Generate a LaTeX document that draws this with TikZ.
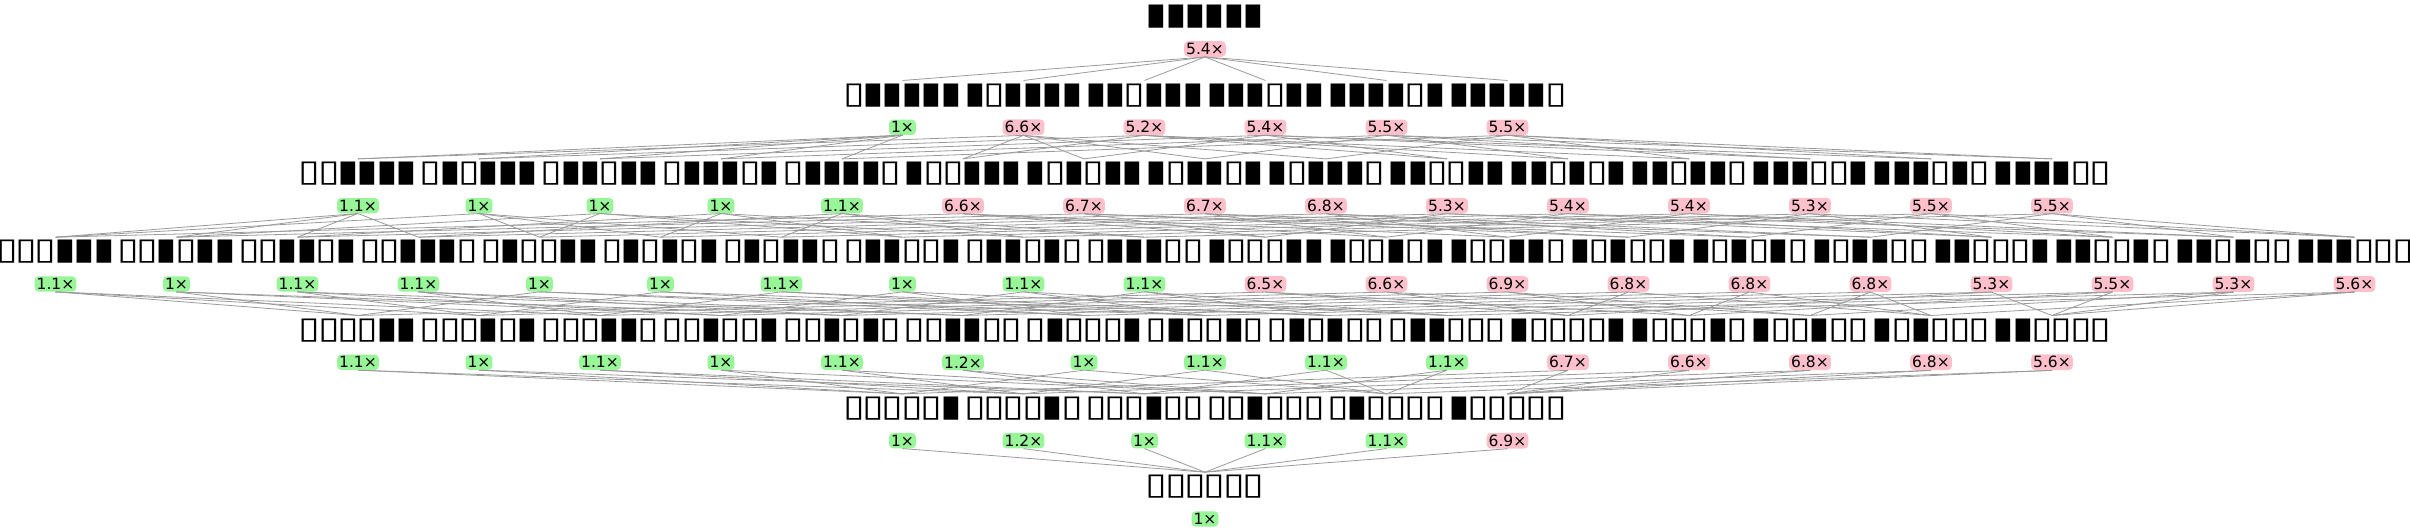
\documentclass[tikz,border=0pt]{standalone}
\usepackage{fontspec}
\setmainfont{DejaVu Sans}
\usepackage{tikz}
\definecolor{rapidefond}{HTML}{98F598}
\definecolor{lentfond}{HTML}{FFC0CB}
\definecolor{lien}{HTML}{9A9A9A}
\newcommand{\motif}[1]{\scalebox{1.3}[1]{\addfontfeatures{LetterSpace=-6}#1}}
\tikzstyle{etat}=[inner sep=3pt,text=black,font=\fontsize{30.4}{32}\selectfont]
\tikzstyle{rapide}=[rectangle,fill=rapidefond,rounded corners=4pt,inner sep=2pt,font=\fontsize{15.5}{17}\selectfont]
\tikzstyle{lent}=[rectangle,fill=lentfond,rounded corners=4pt,inner sep=2pt,font=\fontsize{15.5}{17}\selectfont]
\tikzstyle{suite}=[draw=lien,line width=0.8pt]
\begin{document}
\begin{tikzpicture}[x=1pt,y=1pt]
\useasboundingbox (0,0) rectangle (2410,531);
% niveau 0
\node[etat] (n63) at (1205,514) {\motif{▮▮▮▮▮▮}};
\node[lent] (r63) at (1205,482) {5.4×};
% niveau 1
\foreach \v/\t/\r/\s [count=\i] in {31/▯▮▮▮▮▮/1/rapide,47/▮▯▮▮▮▮/6.6/lent,55/▮▮▯▮▮▮/5.2/lent,
  59/▮▮▮▯▮▮/5.4/lent,61/▮▮▮▮▯▮/5.5/lent,62/▮▮▮▮▮▯/5.5/lent}{
  \node[etat] (n\v) at ({1205+121*(\i-3.5)},435.7) {\motif{\t}};
  \node[\s] (r\v) at ({1205+121*(\i-3.5)},403.7) {\r×};
}
% niveau 2
\foreach \v/\t/\r/\s [count=\i] in {15/▯▯▮▮▮▮/1.1/rapide,23/▯▮▯▮▮▮/1/rapide,27/▯▮▮▯▮▮/1/rapide,
  29/▯▮▮▮▯▮/1/rapide,30/▯▮▮▮▮▯/1.1/rapide,39/▮▯▯▮▮▮/6.6/lent,43/▮▯▮▯▮▮/6.7/lent,
  45/▮▯▮▮▯▮/6.7/lent,46/▮▯▮▮▮▯/6.8/lent,51/▮▮▯▯▮▮/5.3/lent,53/▮▮▯▮▯▮/5.4/lent,
  54/▮▮▯▮▮▯/5.4/lent,57/▮▮▮▯▯▮/5.3/lent,58/▮▮▮▯▮▯/5.5/lent,60/▮▮▮▮▯▯/5.5/lent}{
  \node[etat] (n\v) at ({1205+121*(\i-8)},357.3) {\motif{\t}};
  \node[\s] (r\v) at ({1205+121*(\i-8)},325.3) {\r×};
}
% niveau 3
\foreach \v/\t/\r/\s [count=\i] in {7/▯▯▯▮▮▮/1.1/rapide,11/▯▯▮▯▮▮/1/rapide,13/▯▯▮▮▯▮/1.1/rapide,
  14/▯▯▮▮▮▯/1.1/rapide,19/▯▮▯▯▮▮/1/rapide,21/▯▮▯▮▯▮/1/rapide,22/▯▮▯▮▮▯/1.1/rapide,
  25/▯▮▮▯▯▮/1/rapide,26/▯▮▮▯▮▯/1.1/rapide,28/▯▮▮▮▯▯/1.1/rapide,35/▮▯▯▯▮▮/6.5/lent,
  37/▮▯▯▮▯▮/6.6/lent,38/▮▯▯▮▮▯/6.9/lent,41/▮▯▮▯▯▮/6.8/lent,42/▮▯▮▯▮▯/6.8/lent,
  44/▮▯▮▮▯▯/6.8/lent,49/▮▮▯▯▯▮/5.3/lent,50/▮▮▯▯▮▯/5.5/lent,52/▮▮▯▮▯▯/5.3/lent,
  56/▮▮▮▯▯▯/5.6/lent}{
  \node[etat] (n\v) at ({1205+121*(\i-10.5)},279) {\motif{\t}};
  \node[\s] (r\v) at ({1205+121*(\i-10.5)},247) {\r×};
}
% niveau 4
\foreach \v/\t/\r/\s [count=\i] in {3/▯▯▯▯▮▮/1.1/rapide,5/▯▯▯▮▯▮/1/rapide,6/▯▯▯▮▮▯/1.1/rapide,
  9/▯▯▮▯▯▮/1/rapide,10/▯▯▮▯▮▯/1.1/rapide,12/▯▯▮▮▯▯/1.2/rapide,17/▯▮▯▯▯▮/1/rapide,
  18/▯▮▯▯▮▯/1.1/rapide,20/▯▮▯▮▯▯/1.1/rapide,24/▯▮▮▯▯▯/1.1/rapide,33/▮▯▯▯▯▮/6.7/lent,
  34/▮▯▯▯▮▯/6.6/lent,36/▮▯▯▮▯▯/6.8/lent,40/▮▯▮▯▯▯/6.8/lent,48/▮▮▯▯▯▯/5.6/lent}{
  \node[etat] (n\v) at ({1205+121*(\i-8)},200.7) {\motif{\t}};
  \node[\s] (r\v) at ({1205+121*(\i-8)},168.7) {\r×};
}
% niveau 5
\foreach \v/\t/\r/\s [count=\i] in {1/▯▯▯▯▯▮/1/rapide,2/▯▯▯▯▮▯/1.2/rapide,4/▯▯▯▮▯▯/1/rapide,
  8/▯▯▮▯▯▯/1.1/rapide,16/▯▮▯▯▯▯/1.1/rapide,32/▮▯▯▯▯▯/6.9/lent}{
  \node[etat] (n\v) at ({1205+121*(\i-3.5)},122.3) {\motif{\t}};
  \node[\s] (r\v) at ({1205+121*(\i-3.5)},90.3) {\r×};
}
% niveau 6
\node[etat] (n0) at (1205,44) {\motif{▯▯▯▯▯▯}};
\node[rapide] (r0) at (1205,12) {1×};
% liens : un bit en moins
\foreach \p in {1,...,63}{
  \foreach \w in {1,2,4,8,16,32}{
    \pgfmathtruncatemacro{\b}{mod(floor(\p/\w),2)}
    \ifnum\b=1
      \pgfmathtruncatemacro{\c}{\p-\w}
      \draw[suite] (r\p.south) -- (n\c.north);
    \fi
  }
}
\end{tikzpicture}
\end{document}
